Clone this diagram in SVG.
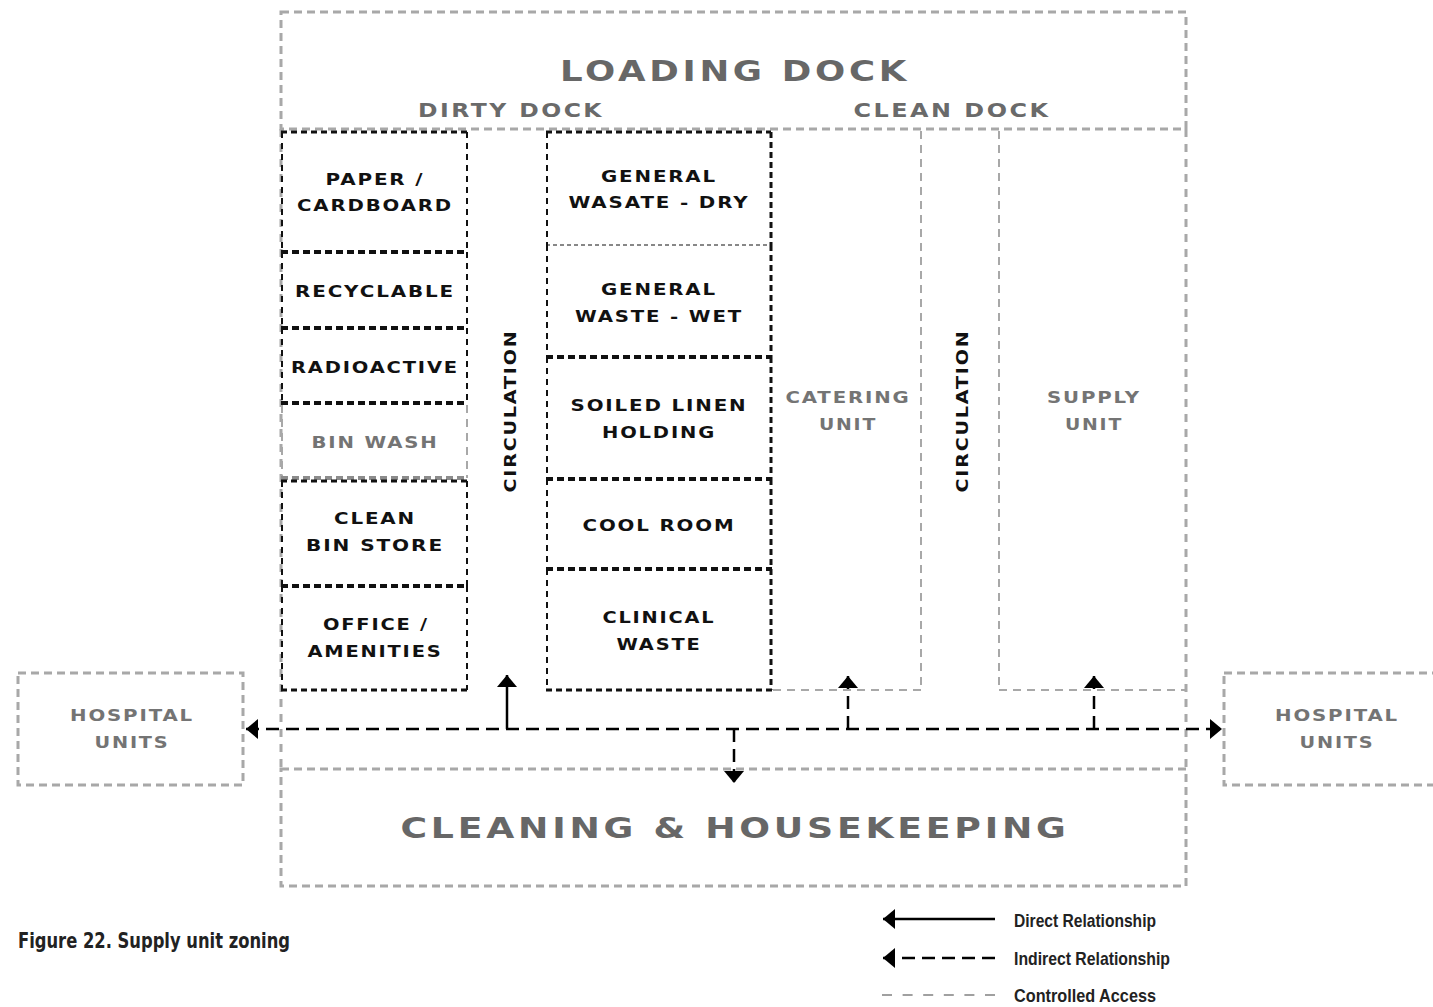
<svg xmlns="http://www.w3.org/2000/svg" width="1433" height="1007" viewBox="0 0 1433 1007">
  <defs>
    <!-- filled arrowhead, tip at the path end -->
    <marker id="head" viewBox="-12 -10 12 20" refX="0" refY="0" markerWidth="12" markerHeight="20" markerUnits="userSpaceOnUse" orient="auto-start-reverse">
      <path d="M-12,-10 L0,0 L-12,10 Z" fill="#000"/>
    </marker>
  </defs>
  <style>
    .zone { fill: none; stroke: #a8a8a8; stroke-width: 3; stroke-dasharray: 8 5; }
    .zone-v { fill: none; stroke: #a8a8a8; stroke-width: 3; stroke-dasharray: 8 7; }
    .zone-thin { fill: none; stroke: #a8a8a8; stroke-width: 2; stroke-dasharray: 8 6; }
    .room-h { stroke: #111; stroke-width: 3; stroke-dasharray: 6 4; }
    .room-sep { stroke: #111; stroke-width: 4; stroke-dasharray: 7 4; }
    .room-v { stroke: #111; stroke-width: 2; stroke-dasharray: 6 5; }
    .room-vr { stroke: #111; stroke-width: 3; stroke-dasharray: 6 4; }
    .room-fine { stroke: #111; stroke-width: 1; stroke-dasharray: 4 3; }
    .wash { stroke: #a8a8a8; stroke-width: 2; stroke-dasharray: 8 6; }
    .wash-b { stroke: #8c8c8c; stroke-width: 4; stroke-dasharray: 7 4; }
    text { font-family: "DejaVu Sans", "Liberation Sans", sans-serif; }
    .lbl { font-weight: bold; font-size: 16px; letter-spacing: 1.5px; fill: #111; text-anchor: middle; }
    .lbl-grey { font-weight: bold; font-size: 16px; letter-spacing: 1.5px; fill: #747474; text-anchor: middle; }
    .head1 { font-weight: bold; font-size: 29px; letter-spacing: 3px; fill: #676767; text-anchor: middle; }
    .head2 { font-weight: bold; font-size: 19px; letter-spacing: 2px; fill: #6a6a6a; text-anchor: middle; }
    .link { fill: none; stroke: #000; stroke-width: 2.5; stroke-dasharray: 13 7; }
    .link-solid { fill: none; stroke: #000; stroke-width: 2.5; }
    .legend { font-family: "Liberation Sans", "DejaVu Sans", sans-serif; font-weight: bold; font-size: 19px; fill: #222; }
  </style>

  <rect width="1433" height="1007" fill="#fff"/>

  <!-- department boundary between the docks and housekeeping -->
  <g id="department-edge">
    <line class="zone-v" x1="281" y1="129" x2="281" y2="769"/>
    <line class="zone-v" x1="1186" y1="129" x2="1186" y2="769"/>
  </g>

  <g id="loading-dock">
    <rect class="zone" x="281" y="12" width="905" height="117"/>
    <text class="head1" x="735" y="81" textLength="350" lengthAdjust="spacingAndGlyphs">LOADING DOCK</text>
    <text class="head2" x="511" y="117" textLength="186" lengthAdjust="spacingAndGlyphs">DIRTY DOCK</text>
    <text class="head2" x="952" y="117" textLength="197" lengthAdjust="spacingAndGlyphs">CLEAN DOCK</text>
  </g>

  <!-- dirty side: left column of rooms -->
  <g id="paper-cardboard">
    <line class="room-h" x1="281" y1="132" x2="468" y2="132"/>
    <line class="room-v" x1="282" y1="132" x2="282" y2="252"/>
    <line class="room-v" x1="467" y1="132" x2="467" y2="252"/>
    <line class="room-sep" x1="281" y1="252" x2="468" y2="252"/>
    <text class="lbl" x="375" y="185" textLength="99" lengthAdjust="spacingAndGlyphs">PAPER /</text>
    <text class="lbl" x="375" y="211" textLength="156" lengthAdjust="spacingAndGlyphs">CARDBOARD</text>
  </g>
  <g id="recyclable">
    <line class="room-v" x1="282" y1="252" x2="282" y2="328"/>
    <line class="room-v" x1="467" y1="252" x2="467" y2="328"/>
    <line class="room-sep" x1="281" y1="328" x2="468" y2="328"/>
    <text class="lbl" x="375" y="297" textLength="160" lengthAdjust="spacingAndGlyphs">RECYCLABLE</text>
  </g>
  <g id="radioactive">
    <line class="room-v" x1="282" y1="328" x2="282" y2="403"/>
    <line class="room-v" x1="467" y1="328" x2="467" y2="403"/>
    <line class="room-sep" x1="281" y1="403" x2="468" y2="403"/>
    <text class="lbl" x="375" y="373" textLength="168" lengthAdjust="spacingAndGlyphs">RADIOACTIVE</text>
  </g>
  <g id="bin-wash">
    <line class="wash" x1="282" y1="405" x2="282" y2="478"/>
    <line class="wash" x1="467" y1="405" x2="467" y2="478"/>
    <line class="wash-b" x1="281" y1="478" x2="468" y2="478"/>
    <text class="lbl-grey" x="375" y="448" textLength="127" lengthAdjust="spacingAndGlyphs">BIN WASH</text>
  </g>
  <g id="clean-bin-store">
    <line class="room-h" x1="281" y1="481" x2="468" y2="481"/>
    <line class="room-v" x1="282" y1="481" x2="282" y2="586"/>
    <line class="room-v" x1="467" y1="481" x2="467" y2="586"/>
    <line class="room-sep" x1="281" y1="586" x2="468" y2="586"/>
    <text class="lbl" x="375" y="524" textLength="82" lengthAdjust="spacingAndGlyphs">CLEAN</text>
    <text class="lbl" x="375" y="551" textLength="138" lengthAdjust="spacingAndGlyphs">BIN STORE</text>
  </g>
  <g id="office-amenities">
    <line class="room-v" x1="282" y1="586" x2="282" y2="690"/>
    <line class="room-v" x1="467" y1="586" x2="467" y2="690"/>
    <line class="room-h" x1="281" y1="690" x2="468" y2="690"/>
    <text class="lbl" x="376" y="630" textLength="106" lengthAdjust="spacingAndGlyphs">OFFICE /</text>
    <text class="lbl" x="375" y="657" textLength="135" lengthAdjust="spacingAndGlyphs">AMENITIES</text>
  </g>

  <g id="circulation-dirty">
    <text class="lbl" transform="translate(516 411) rotate(-90)" x="0" y="0" font-size="17" textLength="163" lengthAdjust="spacingAndGlyphs">CIRCULATION</text>
  </g>

  <!-- dirty side: waste holding column -->
  <g id="general-waste-dry">
    <line class="room-h" x1="546" y1="132" x2="771" y2="132"/>
    <line class="room-v" x1="547" y1="132" x2="547" y2="245"/>
    <line class="room-vr" x1="771" y1="132" x2="771" y2="245"/>
    <line class="room-fine" x1="546" y1="245" x2="771" y2="245"/>
    <text class="lbl" x="659" y="182" textLength="116" lengthAdjust="spacingAndGlyphs">GENERAL</text>
    <text class="lbl" x="659" y="208" textLength="181" lengthAdjust="spacingAndGlyphs">WASATE - DRY</text>
  </g>
  <g id="general-waste-wet">
    <line class="room-v" x1="547" y1="245" x2="547" y2="357"/>
    <line class="room-vr" x1="771" y1="245" x2="771" y2="357"/>
    <line class="room-sep" x1="546" y1="357" x2="772" y2="357"/>
    <text class="lbl" x="659" y="295" textLength="116" lengthAdjust="spacingAndGlyphs">GENERAL</text>
    <text class="lbl" x="659" y="322" textLength="168" lengthAdjust="spacingAndGlyphs">WASTE - WET</text>
  </g>
  <g id="soiled-linen-holding">
    <line class="room-v" x1="547" y1="357" x2="547" y2="479"/>
    <line class="room-vr" x1="771" y1="357" x2="771" y2="479"/>
    <line class="room-sep" x1="546" y1="479" x2="772" y2="479"/>
    <text class="lbl" x="659" y="411" textLength="177" lengthAdjust="spacingAndGlyphs">SOILED LINEN</text>
    <text class="lbl" x="659" y="438" textLength="114" lengthAdjust="spacingAndGlyphs">HOLDING</text>
  </g>
  <g id="cool-room">
    <line class="room-v" x1="547" y1="479" x2="547" y2="569"/>
    <line class="room-vr" x1="771" y1="479" x2="771" y2="569"/>
    <line class="room-sep" x1="546" y1="569" x2="772" y2="569"/>
    <text class="lbl" x="659" y="531" textLength="153" lengthAdjust="spacingAndGlyphs">COOL ROOM</text>
  </g>
  <g id="clinical-waste">
    <line class="room-v" x1="547" y1="569" x2="547" y2="690"/>
    <line class="room-vr" x1="771" y1="569" x2="771" y2="690"/>
    <line class="room-h" x1="546" y1="690" x2="772" y2="690"/>
    <text class="lbl" x="659" y="623" textLength="113" lengthAdjust="spacingAndGlyphs">CLINICAL</text>
    <text class="lbl" x="659" y="650" textLength="85" lengthAdjust="spacingAndGlyphs">WASTE</text>
  </g>

  <!-- clean side -->
  <g id="catering-unit">
    <line class="zone-thin" x1="921" y1="131" x2="921" y2="690"/>
    <line class="zone-thin" x1="773" y1="690" x2="921" y2="690"/>
    <text class="lbl-grey" x="848" y="403" textLength="125" lengthAdjust="spacingAndGlyphs">CATERING</text>
    <text class="lbl-grey" x="848" y="430" textLength="58" lengthAdjust="spacingAndGlyphs">UNIT</text>
  </g>
  <g id="circulation-clean">
    <line class="zone-thin" x1="999" y1="131" x2="999" y2="690"/>
    <text class="lbl" transform="translate(968 411) rotate(-90)" x="0" y="0" font-size="17" textLength="163" lengthAdjust="spacingAndGlyphs">CIRCULATION</text>
  </g>
  <g id="supply-unit">
    <line class="zone-thin" x1="999" y1="690" x2="1186" y2="690"/>
    <text class="lbl-grey" x="1094" y="403" textLength="94" lengthAdjust="spacingAndGlyphs">SUPPLY</text>
    <text class="lbl-grey" x="1094" y="430" textLength="58" lengthAdjust="spacingAndGlyphs">UNIT</text>
  </g>

  <g id="cleaning-housekeeping">
    <rect class="zone" x="281" y="769" width="905" height="117"/>
    <text class="head1" x="735" y="838" font-size="31" textLength="669" lengthAdjust="spacingAndGlyphs">CLEANING &amp; HOUSEKEEPING</text>
  </g>

  <g id="hospital-units-west">
    <rect class="zone" x="18" y="673" width="225" height="112"/>
    <text class="lbl-grey" x="132" y="721" textLength="124" lengthAdjust="spacingAndGlyphs">HOSPITAL</text>
    <text class="lbl-grey" x="132" y="748" textLength="75" lengthAdjust="spacingAndGlyphs">UNITS</text>
  </g>
  <g id="hospital-units-east">
    <rect class="zone" x="1224" y="673" width="225" height="112"/>
    <text class="lbl-grey" x="1337" y="721" textLength="124" lengthAdjust="spacingAndGlyphs">HOSPITAL</text>
    <text class="lbl-grey" x="1337" y="748" textLength="75" lengthAdjust="spacingAndGlyphs">UNITS</text>
  </g>

  <!-- relationships -->
  <g id="connectors">
    <path class="link" d="M246,729 H1222" marker-start="url(#head)" marker-end="url(#head)"/>
    <path class="link-solid" d="M507,729 V675" marker-end="url(#head)"/>
    <path class="link" d="M848,729 V676" marker-end="url(#head)"/>
    <path class="link" d="M1094,729 V676" marker-end="url(#head)"/>
    <path class="link" d="M734,729 V783" marker-end="url(#head)"/>
  </g>

  <g id="caption">
    <text x="18" y="948" font-family="Liberation Sans, DejaVu Sans, sans-serif" font-weight="bold" font-size="22" fill="#222" textLength="272" lengthAdjust="spacingAndGlyphs">Figure 22. Supply unit zoning</text>
  </g>

  <g id="legend">
    <path class="link-solid" d="M995,919 H883" marker-end="url(#head)"/>
    <text class="legend" x="1014" y="927" textLength="142" lengthAdjust="spacingAndGlyphs">Direct Relationship</text>
    <path class="link" d="M995,958 H883" stroke-dasharray="11 10" marker-end="url(#head)"/>
    <text class="legend" x="1014" y="965" textLength="156" lengthAdjust="spacingAndGlyphs">Indirect Relationship</text>
    <line x1="882" y1="995" x2="995" y2="995" stroke="#a0a0a0" stroke-width="2" stroke-dasharray="10 10.6"/>
    <text class="legend" x="1014" y="1002" textLength="142" lengthAdjust="spacingAndGlyphs">Controlled Access</text>
  </g>
</svg>
